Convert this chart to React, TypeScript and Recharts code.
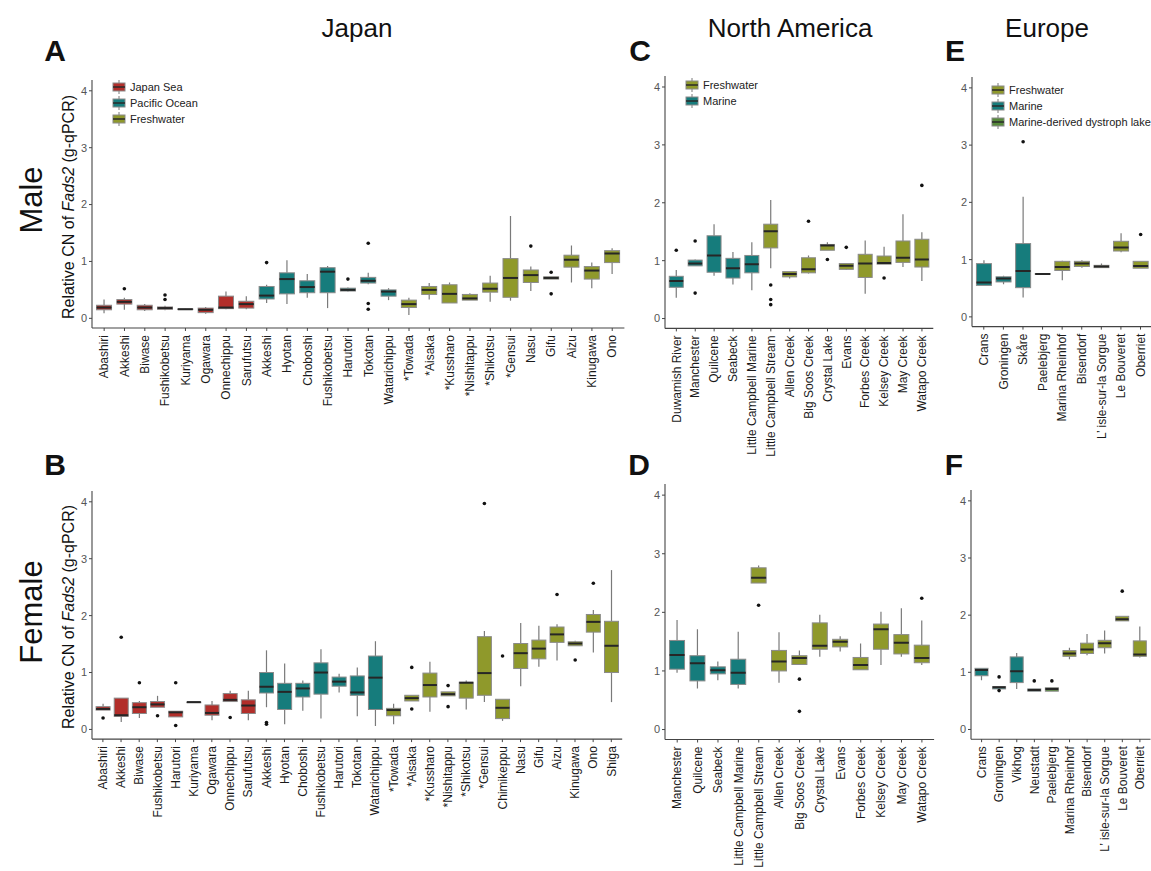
import React from "react";
import { ComposedChart, Bar, XAxis, YAxis, Legend } from "recharts";

const SEA = "#B22E2A";
const PACIFIC = "#167C7C";
const FRESH = "#8F992B";
const DYSTROPH = "#568A3A";
const colorOf: Record<string, string> = { sea: SEA, pac: PACIFIC, fw: FRESH, mar: PACIFIC, dys: DYSTROPH };

// stats are [low whisker, q1, median, q3, high whisker]
type Stat = [number, number, number, number, number];

// ---- A: Japan, male
const japanMaleSites = ["Abashiri", "Akkeshi", "Biwase", "Fushikobetsu", "Kuriyama", "Ogawara", "Onnechippu", "Sarufutsu", "Akkeshi", "Hyotan", "Choboshi", "Fushikobetsu", "Harutori", "Tokotan", "Watarichippu", "*Towada", "*Aisaka", "*Kussharo", "*Nishitappu", "*Shikotsu", "*Gensui", "Nasu", "Gifu", "Aizu", "Kinugawa", "Ono"];
const japanMaleHabitat = ["sea", "sea", "sea", "sea", "sea", "sea", "sea", "sea", "pac", "pac", "pac", "pac", "pac", "pac", "pac", "fw", "fw", "fw", "fw", "fw", "fw", "fw", "fw", "fw", "fw", "fw"];
const japanMaleStats: Stat[] = [
  [0.09, 0.15, 0.19, 0.23, 0.33], [0.15, 0.25, 0.29, 0.33, 0.36], [0.13, 0.15, 0.19, 0.23, 0.25], [0.14, 0.16, 0.18, 0.2, 0.22],
  [0.15, 0.155, 0.16, 0.165, 0.17], [0.08, 0.1, 0.15, 0.18, 0.2], [0.16, 0.17, 0.19, 0.39, 0.47], [0.16, 0.18, 0.25, 0.3, 0.39],
  [0.27, 0.34, 0.4, 0.56, 0.59], [0.25, 0.43, 0.69, 0.8, 1.02], [0.36, 0.45, 0.55, 0.66, 0.78], [0.18, 0.45, 0.82, 0.89, 0.92],
  [0.47, 0.48, 0.5, 0.53, 0.54], [0.6, 0.62, 0.66, 0.72, 0.8], [0.32, 0.39, 0.47, 0.5, 0.53], [0.06, 0.19, 0.25, 0.32, 0.36],
  [0.33, 0.42, 0.5, 0.56, 0.62], [0.27, 0.27, 0.43, 0.59, 0.63], [0.32, 0.32, 0.35, 0.42, 0.44], [0.29, 0.46, 0.52, 0.62, 0.75],
  [0.31, 0.37, 0.71, 1.05, 1.8], [0.48, 0.63, 0.76, 0.85, 0.91], [0.69, 0.69, 0.71, 0.73, 0.73], [0.63, 0.9, 1.03, 1.11, 1.28],
  [0.53, 0.69, 0.84, 0.91, 0.98], [0.78, 0.98, 1.14, 1.19, 1.23],
];
const japanMaleOutliers = [[], [0.52], [], [0.41, 0.33], [], [], [], [], [0.98], [], [], [], [0.69], [1.32, 0.26, 0.16], [], [], [], [], [], [], [], [1.27], [0.81, 0.43], [], [], []];

// ---- B: Japan, female
const japanFemaleSites = ["Abashiri", "Akkeshi", "Biwase", "Fushikobetsu", "Harutori", "Kuriyama", "Ogawara", "Onnechippu", "Sarufutsu", "Akkeshi", "Hyotan", "Choboshi", "Fushikobetsu", "Harutori", "Tokotan", "Watarichippu", "*Towada", "*Aisaka", "*Kussharo", "*Nishitappu", "*Shikotsu", "*Gensui", "Chimikeppu", "Nasu", "Gifu", "Aizu", "Kinugawa", "Ono", "Shiga"];
const japanFemaleHabitat = ["sea", "sea", "sea", "sea", "sea", "sea", "sea", "sea", "sea", "pac", "pac", "pac", "pac", "pac", "pac", "pac", "fw", "fw", "fw", "fw", "fw", "fw", "fw", "fw", "fw", "fw", "fw", "fw", "fw"];
const japanFemaleStats: Stat[] = [
  [0.34, 0.34, 0.36, 0.4, 0.45], [0.13, 0.23, 0.25, 0.55, 0.55], [0.2, 0.28, 0.39, 0.47, 0.5], [0.39, 0.39, 0.44, 0.49, 0.59],
  [0.22, 0.22, 0.3, 0.32, 0.32], [0.48, 0.48, 0.48, 0.48, 0.48], [0.16, 0.25, 0.29, 0.43, 0.5], [0.49, 0.49, 0.52, 0.63, 0.68],
  [0.16, 0.28, 0.42, 0.52, 0.68], [0.39, 0.64, 0.75, 1.0, 1.39], [0.09, 0.35, 0.66, 0.81, 1.16], [0.33, 0.57, 0.72, 0.81, 0.86],
  [0.19, 0.62, 1.0, 1.17, 1.41], [0.65, 0.76, 0.84, 0.92, 0.98], [0.23, 0.6, 0.65, 0.94, 1.09], [0.06, 0.35, 0.91, 1.29, 1.55],
  [0.09, 0.24, 0.34, 0.37, 0.45], [0.5, 0.5, 0.55, 0.6, 0.6], [0.31, 0.57, 0.78, 0.99, 1.19], [0.59, 0.59, 0.62, 0.66, 0.66],
  [0.35, 0.55, 0.82, 0.83, 0.86], [0.48, 0.6, 0.99, 1.63, 1.73], [0.15, 0.19, 0.38, 0.53, 0.53], [0.76, 1.07, 1.34, 1.51, 1.87],
  [1.1, 1.24, 1.42, 1.57, 1.82], [1.21, 1.53, 1.67, 1.8, 1.85], [1.47, 1.47, 1.51, 1.54, 1.56], [1.35, 1.71, 1.89, 2.02, 2.1],
  [0.48, 1.0, 1.47, 1.9, 2.8],
];
const japanFemaleOutliers = [[0.2], [1.62], [0.82], [0.24], [0.82, 0.07], [], [], [0.21], [], [0.12, 0.09], [], [], [], [], [], [], [], [1.09, 0.36], [], [0.77, 0.4], [], [3.97], [1.29], [], [], [2.37], [1.22], [2.57], []];

// ---- C: North America, male
const naMaleSites = ["Duwamish River", "Manchester", "Quilcene", "Seabeck", "Little Campbell Marine", "Little Campbell Stream", "Allen Creek", "Big Soos Creek", "Crystal Lake", "Evans", "Forbes Creek", "Kelsey Creek", "May Creek", "Watapo Creek"];
const naMaleHabitat = ["mar", "mar", "mar", "mar", "mar", "fw", "fw", "fw", "fw", "fw", "fw", "fw", "fw", "fw"];
const naMaleStats: Stat[] = [
  [0.36, 0.54, 0.65, 0.73, 0.84], [0.91, 0.91, 0.95, 1.01, 1.02], [0.74, 0.8, 1.09, 1.43, 1.63], [0.59, 0.7, 0.87, 1.04, 1.15],
  [0.49, 0.79, 0.94, 1.09, 1.32], [0.87, 1.22, 1.51, 1.63, 2.05], [0.69, 0.72, 0.77, 0.81, 0.81], [0.78, 0.79, 0.85, 1.05, 1.09],
  [1.18, 1.18, 1.26, 1.28, 1.32], [0.84, 0.85, 0.91, 0.95, 0.95], [0.43, 0.71, 0.95, 1.11, 1.35], [0.94, 0.94, 0.96, 1.08, 1.24],
  [0.89, 0.97, 1.05, 1.34, 1.8], [0.65, 0.89, 1.02, 1.37, 1.49],
];
const naMaleOutliers = [[1.18], [1.34, 0.44], [], [], [], [0.58, 0.33, 0.24], [], [1.68], [1.02], [1.23], [], [0.7], [], [2.3]];

// ---- D: North America, female
const naFemaleSites = ["Manchester", "Quilcene", "Seabeck", "Little Campbell Marine", "Little Campbell Stream", "Allen Creek", "Big Soos Creek", "Crystal Lake", "Evans", "Forbes Creek", "Kelsey Creek", "May Creek", "Watapo Creek"];
const naFemaleHabitat = ["mar", "mar", "mar", "mar", "fw", "fw", "fw", "fw", "fw", "fw", "fw", "fw", "fw"];
const naFemaleStats: Stat[] = [
  [0.97, 1.03, 1.27, 1.52, 1.87], [0.7, 0.83, 1.13, 1.26, 1.71], [0.84, 0.95, 1.01, 1.07, 1.16], [0.7, 0.77, 0.97, 1.2, 1.67],
  [2.5, 2.5, 2.59, 2.76, 2.8], [0.8, 1.0, 1.16, 1.35, 1.66], [1.11, 1.11, 1.22, 1.26, 1.35], [1.24, 1.37, 1.43, 1.82, 1.96],
  [1.33, 1.41, 1.5, 1.54, 1.59], [1.02, 1.02, 1.1, 1.23, 1.47], [1.1, 1.37, 1.71, 1.8, 2.01], [1.24, 1.29, 1.48, 1.62, 2.07],
  [1.1, 1.14, 1.22, 1.44, 1.86],
];
const naFemaleOutliers = [[], [], [], [], [2.12], [], [0.86, 0.31], [], [], [], [], [], [2.24]];

// ---- E: Europe, male
const euMaleSites = ["Crans", "Groningen", "Skåre", "Paelebjerg", "Marina Rheinhof", "Bisendorf", "L’ isle-sur-la Sorgue", "Le Bouveret", "Oberriet"];
const euMaleHabitat = ["mar", "mar", "mar", "dys", "fw", "fw", "fw", "fw", "fw"];
const euMaleStats: Stat[] = [
  [0.55, 0.55, 0.6, 0.93, 0.99], [0.57, 0.61, 0.67, 0.7, 0.72], [0.34, 0.51, 0.8, 1.28, 2.1], [0.74, 0.745, 0.75, 0.755, 0.76],
  [0.64, 0.81, 0.87, 0.97, 0.98], [0.86, 0.88, 0.93, 0.97, 0.99], [0.86, 0.86, 0.88, 0.9, 0.93], [1.13, 1.15, 1.21, 1.32, 1.46],
  [0.85, 0.85, 0.89, 0.97, 0.97],
];
const euMaleOutliers = [[], [], [3.06], [], [], [], [], [], [1.44]];

// ---- F: Europe, female
const euFemaleSites = ["Crans", "Groningen", "Vikhog", "Neustadt", "Paelebjerg", "Marina Rheinhof", "Bisendorf", "L’ isle-sur-la Sorgue", "Le Bouveret", "Oberriet"];
const euFemaleHabitat = ["mar", "mar", "mar", "mar", "dys", "fw", "fw", "fw", "fw", "fw"];
const euFemaleStats: Stat[] = [
  [0.86, 0.94, 1.04, 1.07, 1.07], [0.71, 0.71, 0.74, 0.75, 0.75], [0.71, 0.82, 1.02, 1.27, 1.34], [0.67, 0.67, 0.69, 0.71, 0.71],
  [0.67, 0.67, 0.71, 0.73, 0.73], [1.23, 1.28, 1.33, 1.38, 1.43], [1.3, 1.33, 1.4, 1.51, 1.67], [1.33, 1.43, 1.51, 1.56, 1.73],
  [1.9, 1.9, 1.93, 1.98, 1.98], [1.26, 1.28, 1.31, 1.55, 1.8],
];
const euFemaleOutliers = [[], [0.92, 0.68], [], [0.85], [0.85], [], [], [], [2.42], []];

const yTicks = [0, 1, 2, 3, 4];
const Y_DOMAIN: [number, number] = [-0.17, 4.19];
// every bar spans this value range; the box parts are placed inside it
const REF: [number, number] = [0, 4];

const japanLegend = [
  { label: "Japan Sea", color: SEA },
  { label: "Pacific Ocean", color: PACIFIC },
  { label: "Freshwater", color: FRESH },
];
const naLegend = [
  { label: "Freshwater", color: FRESH },
  { label: "Marine", color: PACIFIC },
];
const euLegend = [
  { label: "Freshwater", color: FRESH },
  { label: "Marine", color: PACIFIC },
  { label: "Marine-derived dystroph lake", color: DYSTROPH },
];

const FONT = "'Liberation Sans', Arial, Helvetica, sans-serif";
const AXIS = "#444";
const YW = 30;
const MT = 8;
const MR = 4;
const XH = 130;

const BoxShape = (props: any) => {
  const { x, y, width, height, payload } = props;
  const toY = (v: number) => y + (height * (REF[1] - v)) / (REF[1] - REF[0]);
  const [lo, q1, med, q3, hi] = payload.stat as Stat;
  const cx = x + width / 2;
  const top = toY(q3);
  const bottom = toY(q1);
  return (
    <g>
      <line x1={cx} x2={cx} y1={toY(hi)} y2={top} stroke="#7a7a7a" strokeWidth={1.2} />
      <line x1={cx} x2={cx} y1={bottom} y2={toY(lo)} stroke="#7a7a7a" strokeWidth={1.2} />
      <rect x={x} y={top} width={width} height={Math.max(bottom - top, 0.6)} fill={payload.fill} stroke="#8a8a8a" strokeWidth={1} />
      <line x1={x} x2={x + width} y1={toY(med)} y2={toY(med)} stroke="#262626" strokeWidth={2} />
      {payload.out.map((v: number, i: number) => (
        <circle key={i} cx={cx} cy={toY(v)} r={1.8} fill="#111" />
      ))}
    </g>
  );
};

const SiteTick = (props: any) => {
  const { x, y, payload, labels } = props;
  return (
    <g transform={`translate(${x},${y}) rotate(-90)`}>
      <text x={0} y={0} dy="0.35em" textAnchor="end" fontSize={12} fill="#1a1a1a">
        {labels[Number(payload.value)]}
      </text>
    </g>
  );
};

const LegendBox = ({ items }: { items: { label: string; color: string }[] }) => (
  <div style={{ fontSize: 11, color: "#222", fontFamily: FONT }}>
    {items.map((it) => (
      <div key={it.label} style={{ display: "flex", alignItems: "center", height: 16, whiteSpace: "nowrap" }}>
        <svg width={14} height={14} style={{ marginRight: 4 }}>
          <line x1={7} x2={7} y1={0} y2={14} stroke="#7a7a7a" />
          <rect x={1} y={3} width={12} height={8} fill={it.color} stroke="#8a8a8a" />
          <line x1={1} x2={13} y1={7} y2={7} stroke="#2a2a2a" strokeWidth={1.5} />
        </svg>
        {it.label}
      </div>
    ))}
  </div>
);

interface PanelProps {
  sites: string[];
  habitat: string[];
  stats: Stat[];
  outliers: number[][];
  left: number;
  top: number;
  plotW: number;
  plotH: number;
  pad: number;
  legend?: { label: string; color: string }[];
  legendAt?: [number, number];
}

const Panel = ({ sites, habitat, stats, outliers, left, top, plotW, plotH, pad, legend, legendAt }: PanelProps) => {
  const data = sites.map((s, i) => ({
    id: i,
    site: s,
    stat: stats[i],
    out: outliers[i],
    fill: colorOf[habitat[i]],
    ref: REF,
  }));
  const chartLeft = left - YW;
  const chartTop = top - MT;
  return (
    <div style={{ position: "absolute", left: chartLeft, top: chartTop }}>
      <ComposedChart
        width={YW + plotW + MR}
        height={MT + plotH + XH}
        data={data}
        margin={{ top: MT, right: MR, left: 0, bottom: 0 }}
        barCategoryGap="12.5%"
      >
        <XAxis
          dataKey="id"
          type="category"
          interval={0}
          height={XH}
          padding={{ left: pad, right: pad }}
          axisLine={{ stroke: AXIS, strokeWidth: 1.1 }}
          tickLine={{ stroke: AXIS }}
          tickSize={3}
          tickMargin={4}
          tick={<SiteTick labels={sites} />}
        />
        <YAxis
          type="number"
          domain={Y_DOMAIN}
          allowDataOverflow
          ticks={yTicks}
          width={YW}
          axisLine={{ stroke: AXIS, strokeWidth: 1.1 }}
          tickLine={{ stroke: AXIS }}
          tickSize={3}
          tickMargin={2}
          tick={{ fontSize: 11, fill: "#555" }}
        />
        {legend && legendAt && (
          <Legend
            layout="vertical"
            align="center"
            verticalAlign="middle"
            content={() => <LegendBox items={legend} />}
            wrapperStyle={{ left: legendAt[0] - chartLeft, top: legendAt[1] - chartTop, width: 200, height: "auto" }}
          />
        )}
        <Bar dataKey="ref" shape={<BoxShape />} isAnimationActive={false} />
      </ComposedChart>
    </div>
  );
};

const yTitle = (x: number, y: number) => (
  <text transform={`translate(${x},${y}) rotate(-90)`} textAnchor="middle" fontSize={16} fill="#111">
    <tspan>Relative CN of </tspan>
    <tspan fontStyle="italic">Fads2</tspan>
    <tspan> (g-qPCR)</tspan>
  </text>
);

export default function App() {
  return (
    <div
      style={{
        position: "absolute",
        left: 0,
        top: 0,
        width: 1151,
        height: 871,
        overflow: "hidden",
        background: "#fff",
        fontFamily: FONT,
      }}
    >
      <svg width={1151} height={871} style={{ position: "absolute", left: 0, top: 0 }}>
        <g fontFamily={FONT} fill="#111">
          <text x={357} y={37} fontSize={26} textAnchor="middle">Japan</text>
          <text x={790} y={37} fontSize={26} textAnchor="middle">North America</text>
          <text x={1047} y={37} fontSize={26} textAnchor="middle">Europe</text>
          <text x={55} y={61} fontSize={30} fontWeight="bold" textAnchor="middle">A</text>
          <text x={55} y={475} fontSize={30} fontWeight="bold" textAnchor="middle">B</text>
          <text x={640} y={61} fontSize={30} fontWeight="bold" textAnchor="middle">C</text>
          <text x={639} y={475} fontSize={30} fontWeight="bold" textAnchor="middle">D</text>
          <text x={955} y={61} fontSize={30} fontWeight="bold" textAnchor="middle">E</text>
          <text x={954} y={475} fontSize={30} fontWeight="bold" textAnchor="middle">F</text>
          <text transform="translate(42,200) rotate(-90)" fontSize={31} textAnchor="middle">Male</text>
          <text transform="translate(42,612) rotate(-90)" fontSize={31} textAnchor="middle">Female</text>
          {yTitle(74, 207)}
          {yTitle(74, 617)}
        </g>
      </svg>
      <Panel sites={japanMaleSites} habitat={japanMaleHabitat} stats={japanMaleStats} outliers={japanMaleOutliers}
        left={91.8} top={79.9} plotW={532.4} plotH={248} pad={2} legend={japanLegend} legendAt={[112, 79]} />
      <Panel sites={japanFemaleSites} habitat={japanFemaleHabitat} stats={japanFemaleStats} outliers={japanFemaleOutliers}
        left={91.8} top={490.9} plotW={530.2} plotH={248.1} pad={1.8} />
      <Panel sites={naMaleSites} habitat={naMaleHabitat} stats={naMaleStats} outliers={naMaleOutliers}
        left={664.7} top={75.7} plotW={268.3} plotH={252.4} pad={1.9} legend={naLegend} legendAt={[685, 77]} />
      <Panel sites={naFemaleSites} habitat={naFemaleHabitat} stats={naFemaleStats} outliers={naFemaleOutliers}
        left={664.8} top={483.8} plotW={269.1} plotH={255.5} pad={2} />
      <Panel sites={euMaleSites} habitat={euMaleHabitat} stats={euMaleStats} outliers={euMaleOutliers}
        left={971.5} top={77.4} plotW={180.3} plotH={249.6} pad={2} legend={euLegend} legendAt={[991, 82]} />
      <Panel sites={euFemaleSites} habitat={euFemaleHabitat} stats={euFemaleStats} outliers={euFemaleOutliers}
        left={971.1} top={489.8} plotW={179.5} plotH={249.2} pad={1.8} />
    </div>
  );
}
